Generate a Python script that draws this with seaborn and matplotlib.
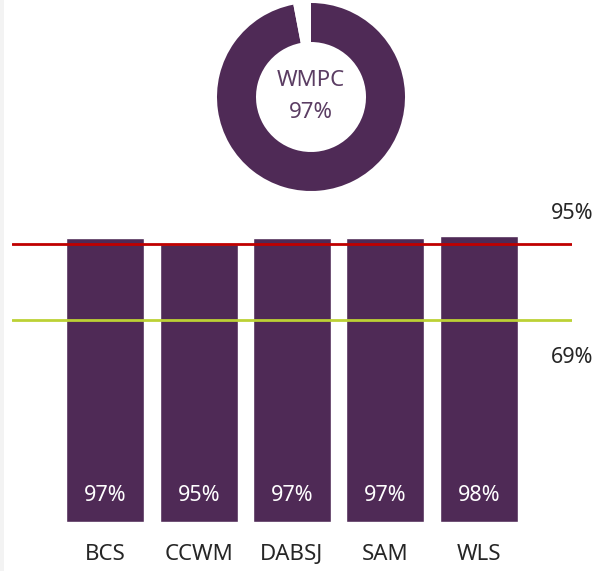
import matplotlib
matplotlib.use("Agg")
import matplotlib.pyplot as plt
import matplotlib.transforms as mtransforms
from matplotlib.patches import Rectangle
import seaborn as sns
import pandas as pd

# Data
categories = ["BCS", "CCWM", "DABSJ", "SAM", "WLS"]
values = [97, 95, 97, 97, 98]
overall_name = "WMPC"
overall_value = 97
target_upper = 95
target_lower = 69

purple = "#4F2A56"
red = "#C00000"
green = "#BCD135"
text_dark = "#262626"

sns.set_theme(style="white")
plt.rcParams["font.family"] = ["Noto Sans", "DejaVu Sans"]

W, H = 596, 571
fig = plt.figure(figsize=(W / 100, H / 100), dpi=100)
fig.patch.set_facecolor("white")

# thin grey strip at the left edge
fig.patches.append(Rectangle((0, 0), 4 / W, 1, transform=fig.transFigure,
                             facecolor="#F3F3F3", edgecolor="none", zorder=0))

# ---- donut ----
cx, cy, r_out, r_in = 311, 97, 94, 55
dax = fig.add_axes([(cx - r_out) / W, (H - cy - r_out) / H, 2 * r_out / W, 2 * r_out / H])
dax.pie([overall_value, 100 - overall_value], colors=[purple, "white"],
        startangle=90, counterclock=False, radius=1,
        wedgeprops=dict(width=(r_out - r_in) / r_out, edgecolor="none"))
dax.set_xlim(-1, 1)
dax.set_ylim(-1, 1)
dax.set_aspect("equal")
dax.axis("off")
dax.text(0, 0.18, overall_name, ha="center", va="center", fontsize=16, color="#5B3D63")
dax.text(0, -0.17, f"{overall_value}%", ha="center", va="center", fontsize=16, color="#5B3D63")

# ---- bars ----
bottom_px, top_px, left_px, right_px = 521.5, 200.5, 12, 572
ax = fig.add_axes([left_px / W, (H - bottom_px) / H, (right_px - left_px) / W, (bottom_px - top_px) / H])
df = pd.DataFrame({"site": categories, "pct": values})
sns.barplot(data=df, x="site", y="pct", color=purple, saturation=1, width=0.835, ax=ax, zorder=2)
ax.set_xlim(-1, 5)
ax.set_ylim(0, 110)
ax.axhline(target_upper, color=red, lw=2, zorder=3)
ax.axhline(target_lower, color=green, lw=2, zorder=3)

for i, v in enumerate(values):
    ax.annotate(f"{v}%", xy=(i, 0), xytext=(0, 26), textcoords="offset pixels",
                ha="center", va="center", color="white", fontsize=15.5)

blend = mtransforms.blended_transform_factory(ax.transAxes, ax.transData)
ax.annotate(f"{target_upper}%", xy=(1, target_upper), xycoords=blend, xytext=(0, 31),
            textcoords="offset pixels", ha="center", va="center", color=text_dark, fontsize=15.5)
ax.annotate(f"{target_lower}%", xy=(1, target_lower), xycoords=blend, xytext=(0, -37),
            textcoords="offset pixels", ha="center", va="center", color=text_dark, fontsize=15.5)

ax.set_xlabel("")
ax.set_ylabel("")
ax.set_yticks([])
ax.tick_params(axis="x", length=0, pad=16, labelsize=16, labelcolor=text_dark)
for s in ax.spines.values():
    s.set_visible(False)
ax.set_facecolor("none")

fig.savefig("out.png", dpi=100)
